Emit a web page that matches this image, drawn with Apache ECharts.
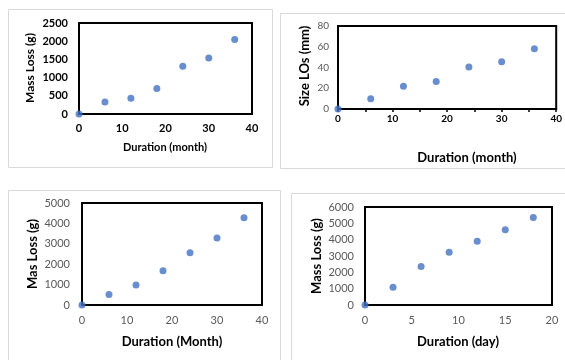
<!DOCTYPE html>
<html><head><meta charset="utf-8">
<script src="https://cdn.jsdelivr.net/npm/echarts@6/dist/echarts.min.js"></script>
<style>html,body{margin:0;padding:0;background:#fff}#c{width:565px;height:360px}</style>
</head><body><div id="c"></div>
<script>
// Panel A: Mass Loss (g) vs Duration (month)
const durA = [0, 6, 12, 18, 24, 30, 36];
const massA = [0, 330, 430, 700, 1310, 1540, 2050];
// Panel B: Size Los (mm) vs Duration (month)
const durB = [0, 6, 12, 18, 24, 30, 36];
const sizeB = [0, 10, 22, 26.5, 40.5, 45.5, 58];
// Panel C: Mas Loss (g) vs Duration (Month)
const durC = [0, 6, 12, 18, 24, 30, 36];
const massC = [0, 510, 980, 1680, 2560, 3280, 4280];
// Panel D: Mass Loss (g) vs Duration (day)
const durD = [0, 3, 6, 9, 12, 15, 18];
const massD = [0, 1080, 2350, 3230, 3910, 4600, 5360];

const titles = {
  a: ['Duration (month)', 'Mass Loss (g)'],
  b: ['Duration (month)', 'Size LOs (mm)'],
  c: ['Duration (Month)', 'Mas Loss (g)'],
  d: ['Duration (day)', 'Mass Loss (g)']
};

const FONT = 'Lato, "Liberation Sans", sans-serif';
const blue = '#4472C4';
const pairs = (xs, ys) => xs.map((x, i) => [x, ys[i]]);
const plain = v => String(v);

const grids = [
  {left: 79, top: 23, width: 173, height: 91},
  {left: 338, top: 26, width: 220, height: 83},
  {left: 82, top: 203, width: 180, height: 102},
  {left: 365, top: 207, width: 187, height: 98}
];
grids.forEach(g => { g.show = true; g.borderColor = '#000'; g.borderWidth = 2; g.backgroundColor = 'transparent'; });

function xAxis(i, max, interval, o) {
  return Object.assign({
    type: 'value', gridIndex: i, min: 0, max: max, interval: interval,
    splitLine: {show: false},
    axisLine: {show: true, onZero: false, lineStyle: {color: '#000', width: 2}},
    axisTick: {show: false},
    axisLabel: {fontFamily: FONT, fontSize: 11, color: '#595959', margin: 10, formatter: plain}
  }, o || {});
}
function yAxis(i, max, interval, o) {
  return Object.assign({
    type: 'value', gridIndex: i, min: 0, max: max, interval: interval,
    splitLine: {show: false},
    axisLine: {show: true, onZero: false, lineStyle: {color: '#000', width: 2}},
    axisTick: {show: false},
    axisLabel: {fontFamily: FONT, fontSize: 11, color: '#595959', margin: 11, formatter: plain}
  }, o || {});
}

const boldLab = {fontFamily: FONT, fontSize: 11, color: '#000', fontWeight: 'bold', formatter: plain};

const cards = [
  {x: 8, y: 9, w: 264, h: 158},
  {x: 280, y: 13, w: 290, h: 155},
  {x: 8, y: 190, w: 272, h: 175},
  {x: 291, y: 193, w: 280, h: 175}
];

function txt(x, y, s, size, rot) {
  return {type: 'text', x: x, y: y, rotation: rot ? Math.PI/2 : 0,
    style: {text: s, fontFamily: FONT, fontSize: size, fontWeight: 'bold', fill: '#000',
      textAlign: 'center', textVerticalAlign: 'middle'}, z: 10};
}

const option = {
  animation: false,
  backgroundColor: '#fff',
  grid: grids,
  xAxis: [
    xAxis(0, 40, 10, {axisLabel: Object.assign({}, boldLab, {margin: 9})}),
    xAxis(1, 40, 5, {
      axisTick: {show: true, inside: false, length: 3, lineStyle: {color: '#000', width: 1.5}},
      axisLabel: Object.assign({}, boldLab, {fontSize: 10, margin: 5, formatter: v => (v % 10 === 0 ? String(v) : '')})
    }),
    xAxis(2, 40, 10),
    xAxis(3, 20, 5)
  ],
  yAxis: [
    yAxis(0, 2500, 500, {axisLabel: Object.assign({}, boldLab, {margin: 11})}),
    yAxis(1, 80, 20, {axisLabel: {fontFamily: FONT, fontSize: 10, color: '#595959', margin: 9, formatter: plain}}),
    yAxis(2, 5000, 1000, {axisLabel: {fontFamily: FONT, fontSize: 11, color: '#595959', margin: 12, formatter: plain}}),
    yAxis(3, 6000, 1000, {axisLabel: {fontFamily: FONT, fontSize: 11, color: '#595959', margin: 11, formatter: plain}})
  ],
  series: [
    {type: 'scatter', xAxisIndex: 0, yAxisIndex: 0, data: pairs(durA, massA)},
    {type: 'scatter', xAxisIndex: 1, yAxisIndex: 1, data: pairs(durB, sizeB)},
    {type: 'scatter', xAxisIndex: 2, yAxisIndex: 2, data: pairs(durC, massC)},
    {type: 'scatter', xAxisIndex: 3, yAxisIndex: 3, data: pairs(durD, massD)}
  ].map(s => Object.assign(s, {symbol: 'circle', symbolSize: 7, itemStyle: {color: blue}, z: 5, clip: false})),
  graphic: [
    ...cards.map(c => ({type: 'rect', shape: {x: c.x + 0.5, y: c.y + 0.5, width: c.w, height: c.h},
      style: {fill: 'none', stroke: '#d9d9d9', lineWidth: 1}, z: -1})),
    txt(165, 147, titles.a[0], 11),
    txt(30, 68, titles.a[1], 12, true),
    txt(467, 158, titles.b[0], 13),
    txt(305, 66, titles.b[1], 13, true),
    txt(172, 342, titles.c[0], 13),
    txt(33, 254, titles.c[1], 13, true),
    txt(458, 342, titles.d[0], 13),
    txt(317, 256, titles.d[1], 13, true)
  ]
};

echarts.init(document.getElementById('c'), null, {renderer: 'canvas'}).setOption(option);
</script>
</body></html>
